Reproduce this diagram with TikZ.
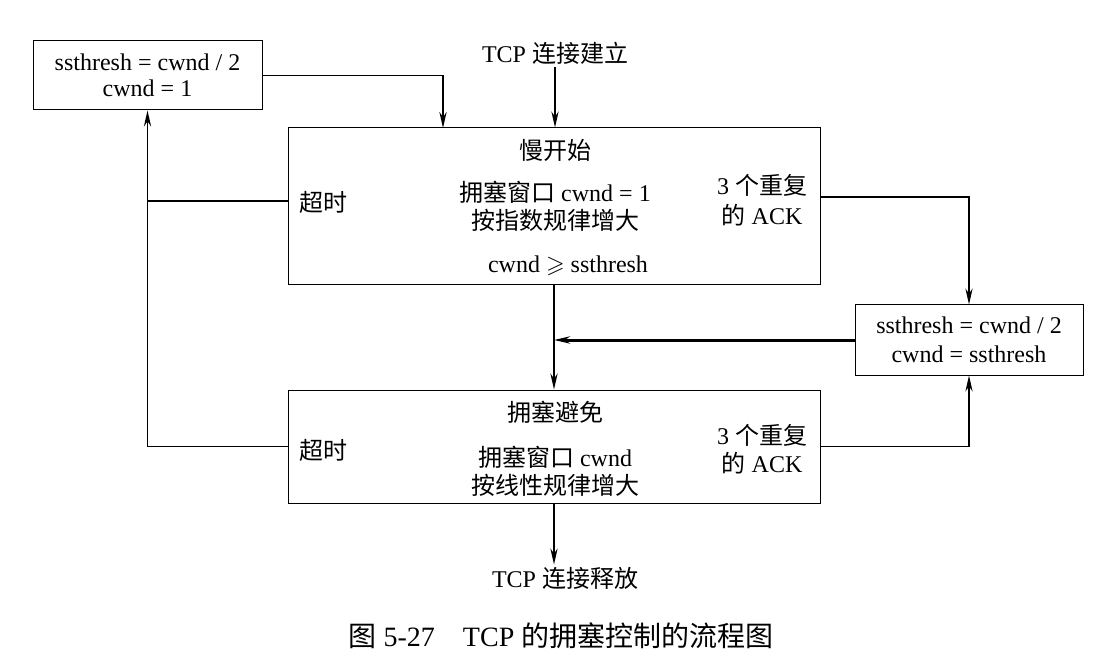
\documentclass[tikz,border=0pt]{standalone}
\usepackage{fontspec}
\usepackage{amssymb}
\setmainfont{Liberation Serif}
\newfontfamily\cjk{Noto Sans CJK SC}
\newcommand{\zh}[1]{{\cjk #1}}
\usetikzlibrary{arrows.meta}
\tikzset{
  stage/.style={draw, line width=0.5pt, inner sep=0pt},
  txt/.style={font=\fontsize{12pt}{14pt}\selectfont, align=center, inner sep=1pt},
  flow/.style={-{Stealth[length=8pt,width=3.6pt]}, line width=0.9pt},
}
\begin{document}
\begin{tikzpicture}[x=0.5pt,y=-0.5pt]
  \useasboundingbox (0,0) rectangle (1117,662);
  % boxes
  \node[stage, minimum width=266pt, minimum height=78.5pt] (slow) at (554,206.5) {};
  \node[stage, minimum width=266pt, minimum height=56.5pt] (avoid) at (554,446.5) {};
  \node[stage, minimum width=114.5pt, minimum height=34.5pt] (reset) at (147.5,75.5) {};
  \node[stage, minimum width=114pt, minimum height=35pt] (fast) at (969,340) {};
  \node[txt, font=\fontsize{12pt}{13pt}\selectfont] at (reset) {ssthresh = cwnd / 2\\cwnd = 1};
  \node[txt, font=\fontsize{12pt}{14.5pt}\selectfont] at (fast) {ssthresh = cwnd / 2\\cwnd = ssthresh};
  % slow start
  \node[txt] (slowname) at (555,150) {\zh{慢开始}};
  \node[txt] (slowrule) at (555,206) {\zh{拥塞窗口} cwnd = 1\\\zh{按指数规律增大}};
  \node[txt] (slowcond) at (568,266) {cwnd $\geqslant$ ssthresh};
  \node[txt] (slowto) at (323,202) {\zh{超时}};
  \node[txt, font=\fontsize{12pt}{15pt}\selectfont] (slowack) at (762,200) {3 \zh{个重复}\\\zh{的} ACK};
  % congestion avoidance
  \node[txt] (avoidname) at (555,412) {\zh{拥塞避免}};
  \node[txt] (avoidrule) at (555,471) {\zh{拥塞窗口} cwnd\\\zh{按线性规律增大}};
  \node[txt] (avoidto) at (323,450) {\zh{超时}};
  \node[txt] (avoidack) at (762,449) {3 \zh{个重复}\\\zh{的} ACK};
  % start / end
  \node[txt] (open) at (555,53) {TCP \zh{连接建立}};
  \node[txt] (close) at (565,578) {TCP \zh{连接释放}};
  \node[txt, font=\fontsize{14pt}{16pt}\selectfont] (caption) at (561,636) {\zh{图} 5-27\quad TCP \zh{的拥塞控制的流程图}};
  \coordinate (in1) at (443,128);
  \draw[flow] (open) -- (open |- slow.north);
  \draw[flow] (reset.east) -| (in1);
  \draw[line width=0.9pt] ([yshift=2.75pt]slow.west) -- ([yshift=2.75pt]slow.west -| reset.south);
  \draw[flow] (avoid.west) -| (reset.south);
  \draw[flow] ([yshift=4.75pt]slow.east) -| (fast.north);
  \draw[flow] (avoid.east) -| (fast.south);
  \draw[flow] (slow.south) -- (avoid.north);
  \draw[flow, line width=1.5pt] (fast.west) -- (fast.west -| slow.south);
  \draw[flow] (avoid.south) -- (avoid.south |- close.north);
\end{tikzpicture}
\end{document}
